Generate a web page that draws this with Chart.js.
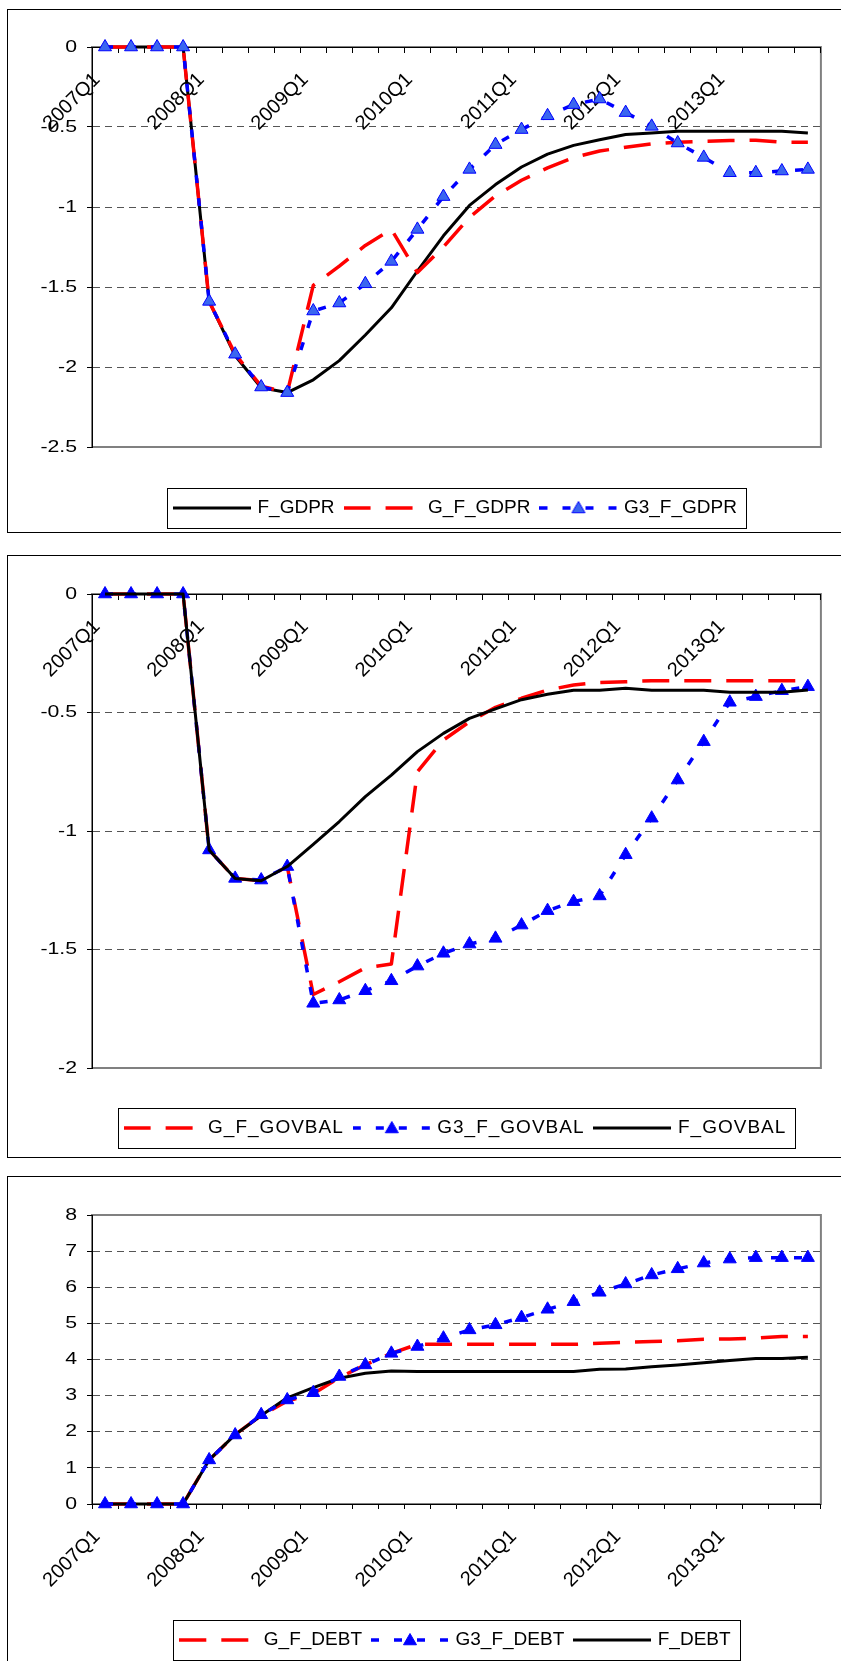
<!DOCTYPE html>
<html>
<head>
<meta charset="utf-8">
<title>F_GDPR / F_GOVBAL / F_DEBT</title>
<script src="https://cdn.jsdelivr.net/npm/chart.js@4.4.1/dist/chart.umd.min.js"></script>
<style>
  html, body { margin:0; padding:0; background:#fff; }
  body { width:841px; height:1661px; position:relative; overflow:hidden; }
  .frame { position:absolute; left:7px; width:860px; border:1px solid #000; box-sizing:border-box; }
  canvas { position:absolute; left:0; }
</style>
</head>
<body>
<div class="frame" style="top:9px;height:524px"></div>
<div class="frame" style="top:555px;height:603px"></div>
<div class="frame" style="top:1176px;height:520px"></div>
<canvas id="gdpr" width="841" height="524" style="top:9px"></canvas>
<canvas id="govbal" width="841" height="602" style="top:555px"></canvas>
<canvas id="debt" width="841" height="485" style="top:1176px"></canvas>
<script>
Chart.defaults.font.family = "'Liberation Sans', Arial, Helvetica, sans-serif";
Chart.defaults.color = '#000';

// ---------- data ----------
const categories = [
  '2007Q1','2007Q2','2007Q3','2007Q4','2008Q1','2008Q2','2008Q3','2008Q4',
  '2009Q1','2009Q2','2009Q3','2009Q4','2010Q1','2010Q2','2010Q3','2010Q4',
  '2011Q1','2011Q2','2011Q3','2011Q4','2012Q1','2012Q2','2012Q3','2012Q4',
  '2013Q1','2013Q2','2013Q3','2013Q4'
];
const xTickLabels = ['2007Q1','2008Q1','2009Q1','2010Q1','2011Q1','2012Q1','2013Q1'];

const gdprTicks = [-2.5, -2, -1.5, -1, -0.5, 0];
const F_GDPR    = [0,0,0,0,-1.59,-1.93,-2.13,-2.16,-2.08,-1.96,-1.80,-1.63,-1.40,-1.18,-0.99,-0.86,-0.75,-0.67,-0.615,-0.58,-0.547,-0.537,-0.527,-0.527,-0.527,-0.527,-0.527,-0.537];
const G_F_GDPR  = [0,0,0,0,-1.59,-1.92,-2.12,-2.16,-1.49,-1.37,-1.24,-1.14,-1.41,-1.25,-1.065,-0.93,-0.833,-0.755,-0.69,-0.65,-0.626,-0.605,-0.595,-0.589,-0.585,-0.583,-0.595,-0.595];
const G3_F_GDPR = [0,0,0,0,-1.59,-1.92,-2.125,-2.16,-1.65,-1.60,-1.48,-1.34,-1.14,-0.935,-0.765,-0.61,-0.516,-0.43,-0.36,-0.325,-0.41,-0.496,-0.60,-0.69,-0.786,-0.786,-0.775,-0.765];

const govbalTicks = [-2, -1.5, -1, -0.5, 0];
const G_F_GOVBAL  = [0,0,0,0,-1.08,-1.20,-1.21,-1.15,-1.69,-1.636,-1.577,-1.561,-0.75,-0.616,-0.539,-0.478,-0.44,-0.405,-0.384,-0.373,-0.37,-0.366,-0.366,-0.366,-0.366,-0.366,-0.366,-0.366];
const G3_F_GOVBAL = [0,0,0,0,-1.08,-1.20,-1.207,-1.15,-1.727,-1.713,-1.674,-1.632,-1.57,-1.516,-1.477,-1.453,-1.397,-1.336,-1.298,-1.274,-1.10,-0.946,-0.785,-0.623,-0.457,-0.433,-0.408,-0.391];
const F_GOVBAL    = [0,0,0,0,-1.08,-1.20,-1.21,-1.15,-1.056,-0.96,-0.855,-0.764,-0.665,-0.588,-0.525,-0.485,-0.446,-0.423,-0.406,-0.406,-0.398,-0.406,-0.406,-0.406,-0.415,-0.415,-0.415,-0.405];

const debtTicks = [0, 1, 2, 3, 4, 5, 6, 7, 8];
const G_F_DEBT  = [0,0,0,0,1.22,1.92,2.45,2.85,3.05,3.5,3.85,4.17,4.42,4.42,4.42,4.42,4.42,4.42,4.42,4.45,4.48,4.5,4.52,4.56,4.57,4.59,4.64,4.64];
const G3_F_DEBT = [0,0,0,0,1.22,1.91,2.47,2.88,3.08,3.53,3.85,4.17,4.36,4.59,4.82,4.96,5.16,5.39,5.60,5.86,6.09,6.34,6.51,6.67,6.78,6.82,6.82,6.82];
const F_DEBT    = [0,0,0,0,1.22,1.92,2.45,2.94,3.22,3.48,3.62,3.68,3.67,3.67,3.67,3.67,3.67,3.67,3.67,3.73,3.74,3.80,3.85,3.91,3.97,4.03,4.03,4.06];

// ---------- styles ----------
const SERIES_STYLE = {
  F:  { color: '#000000', width: 3,   dash: [] },
  G:  { color: '#ff0000', width: 3.5, dash: [27, 15] },
  G3: { color: '#0000ff', width: 3.5, dash: [8, 15] }
};
const TRI_R = 7.5;
const TICK_FONT_Y = 17, Y_LABEL_STRETCH = 1.25, TICK_FONT_X = 20, LEGEND_FONT = 19;
const SAMPLE_BOX = 72, SAMPLE_W = 78;
const Y_TICK_LEN = 5, Y_TICK_PAD = 10;

function triPath(g, x, y, r) {
  g.beginPath();
  for (let k = 0; k < 3; k++) {
    const a = k * 2 * Math.PI / 3;
    const px = x + Math.sin(a) * r, py = y - Math.cos(a) * r;
    if (k === 0) g.moveTo(px, py); else g.lineTo(px, py);
  }
  g.closePath();
}

function makeSample(kind, triFill) {
  const c = document.createElement('canvas');
  c.width = SAMPLE_W; c.height = 20;
  const g = c.getContext('2d');
  const s = SERIES_STYLE[kind];
  g.strokeStyle = s.color; g.lineWidth = s.width; g.lineCap = 'butt';
  g.setLineDash(s.dash);
  g.beginPath(); g.moveTo(0, 10); g.lineTo(SAMPLE_W, 10); g.stroke();
  if (kind === 'G3') {
    g.setLineDash([]);
    triPath(g, SAMPLE_W / 2, 11, TRI_R);
    g.fillStyle = triFill; g.fill();
    g.lineWidth = 1; g.strokeStyle = '#0000ff'; g.stroke();
  }
  return c;
}

function makeDataset(s, triFill) {
  const st = SERIES_STYLE[s.kind];
  const d = {
    label: s.label, data: s.data, order: s.order, clip: 12,
    borderColor: st.color, backgroundColor: st.color, borderWidth: st.width,
    borderDash: st.dash, borderCapStyle: 'butt', borderJoinStyle: 'round',
    fill: false, tension: 0, pointRadius: 0, pointHoverRadius: 0, pointHitRadius: 0
  };
  if (s.kind === 'G3') {
    Object.assign(d, {
      pointStyle: 'triangle', pointRadius: TRI_R, pointHoverRadius: TRI_R,
      pointBackgroundColor: triFill, pointBorderColor: '#0000ff', pointBorderWidth: 1
    });
  }
  return d;
}

function buildChart(id, spec) {
  const canvas = document.getElementById(id);
  const W = canvas.width, H = canvas.height;
  const { series, ticks, xAtZero, area, legendCenter, triFill, legendPad, legendSpacing } = spec;
  const yMin = Math.min(...ticks), yMax = Math.max(...ticks);
  const legendH = xAtZero ? H - area.bottom : 40;
  const xAxisH = xAtZero ? null : H - legendH - area.bottom;
  const samples = series.map(s => makeSample(s.kind, triFill));

  const withSpacing = (ctx, sp, fn) => {
    const prev = ctx.letterSpacing;
    if (sp && 'letterSpacing' in ctx) ctx.letterSpacing = sp;
    try { fn(); } finally { if ('letterSpacing' in ctx) ctx.letterSpacing = prev; }
  };

  const plugin = {
    id: 'excelLook',
    beforeUpdate(chart) {
      const lg = chart.legend;
      if (lg && !lg.$patched) {
        const fit = lg.fit, draw = lg.draw;
        lg.fit = function () {
          withSpacing(this.ctx, legendSpacing, () => fit.call(this));
          this.height = legendH;
        };
        lg.draw = function () {
          withSpacing(this.ctx, legendSpacing, () => draw.call(this));
        };
        lg.$patched = true;
      }
    },
    afterLayout(chart) {
      const lg = chart.legend, ca = chart.chartArea;
      const cx = (ca.left + ca.right) / 2;
      lg.left = cx - 400; lg.right = cx + 400; lg.width = 800;
      lg.top = legendCenter - legendPad - LEGEND_FONT / 2;
      lg.bottom = lg.top + lg.height;
      const ys = chart.scales.y;
      if (ys && !ys.$stretched) {
        const base = Object.getPrototypeOf(ys).drawLabels;
        ys.drawLabels = function (ca2) {
          const c = this.ctx;
          const ax = this.right - Y_TICK_LEN - Y_TICK_PAD;
          c.save();
          c.translate(ax, 0); c.scale(Y_LABEL_STRETCH, 1); c.translate(-ax, 0);
          base.call(this, ca2);
          c.restore();
        };
        ys.$stretched = true;
      }
    },
    beforeDraw(chart) {
      const ca = chart.chartArea, g = chart.ctx;
      g.save();
      g.strokeStyle = '#808080'; g.lineWidth = 2;
      g.strokeRect(ca.left, ca.top, ca.right - ca.left, ca.bottom - ca.top);
      g.restore();
    },
    afterDraw(chart) {
      const hb = chart.legend.legendHitBoxes;
      if (!hb || !hb.length) return;
      const first = hb[0], last = hb[hb.length - 1];
      const x1 = Math.round(first.left - 9) + 0.5;
      const x2 = Math.round(last.left + last.width + 9) + 0.5;
      const cy = first.top + first.height / 2;
      const y1 = Math.round(cy - 20) + 0.5;
      const g = chart.ctx;
      g.save();
      g.strokeStyle = '#000'; g.lineWidth = 1;
      g.strokeRect(x1, y1, x2 - x1, 40);
      g.restore();
    }
  };

  const edge = c => c.tick && (c.tick.value === yMin || c.tick.value === yMax);

  return new Chart(canvas, {
    type: 'line',
    data: { labels: categories, datasets: series.map(s => makeDataset(s, triFill)) },
    options: {
      responsive: false, animation: false, devicePixelRatio: 1, events: [],
      layout: { padding: { top: area.top, right: W - area.right, bottom: 0, left: 0 } },
      plugins: {
        tooltip: { enabled: false },
        legend: {
          display: true, position: 'bottom', align: 'center',
          labels: {
            usePointStyle: true, pointStyleWidth: SAMPLE_BOX, padding: legendPad,
            color: '#000', font: { size: LEGEND_FONT },
            generateLabels(chart) {
              const items = Chart.defaults.plugins.legend.labels.generateLabels(chart);
              items.forEach(it => { it.pointStyle = samples[it.datasetIndex]; it.rotation = 0; });
              items.sort((a, b) => a.datasetIndex - b.datasetIndex);
              return items;
            }
          }
        }
      },
      scales: {
        x: {
          type: 'category', offset: true,
          position: xAtZero ? { y: 0 } : 'bottom',
          grid: { offset: true, drawOnChartArea: false, drawTicks: true, tickLength: 5, color: '#000', tickColor: '#000', lineWidth: 1 },
          border: { display: true, color: '#000', width: 1 },
          ticks: {
            autoSkip: false, minRotation: 45, maxRotation: 45, padding: 16, labelOffset: -8,
            color: '#000', font: { size: TICK_FONT_X },
            callback: (v, i) => xTickLabels.includes(categories[i]) ? categories[i] : ''
          },
          afterFit: s => { if (xAxisH !== null) s.height = xAxisH; }
        },
        y: {
          type: 'linear', min: yMin, max: yMax,
          grid: {
            color: c => edge(c) ? 'rgba(0,0,0,0)' : '#555',
            tickColor: '#000', tickLength: Y_TICK_LEN, drawTicks: true, lineWidth: 1
          },
          border: { display: true, color: '#000', width: 1, dash: [7, 5] },
          ticks: { padding: Y_TICK_PAD, color: '#000', font: { size: TICK_FONT_Y }, callback: v => String(v) },
          afterBuildTicks: s => { s.ticks = ticks.slice().sort((a, b) => a - b).map(v => ({ value: v })); },
          afterFit: s => { s.width = area.left; }
        }
      }
    },
    plugins: [plugin]
  });
}

buildChart('gdpr', {
  ticks: gdprTicks, xAtZero: true, triFill: '#3a66f0', legendPad: 12, legendSpacing: '0px',
  area: { left: 92, right: 833, top: 38, bottom: 438 }, legendCenter: 499,
  series: [
    { label: 'F_GDPR',    data: F_GDPR,    kind: 'F',  order: 3 },
    { label: 'G_F_GDPR',  data: G_F_GDPR,  kind: 'G',  order: 2 },
    { label: 'G3_F_GDPR', data: G3_F_GDPR, kind: 'G3', order: 1 }
  ]
});

buildChart('govbal', {
  ticks: govbalTicks, xAtZero: true, triFill: '#0000ff', legendPad: 12, legendSpacing: '1px',
  area: { left: 92, right: 834, top: 39, bottom: 513 }, legendCenter: 573,
  series: [
    { label: 'G_F_GOVBAL',  data: G_F_GOVBAL,  kind: 'G',  order: 3 },
    { label: 'G3_F_GOVBAL', data: G3_F_GOVBAL, kind: 'G3', order: 2 },
    { label: 'F_GOVBAL',    data: F_GOVBAL,    kind: 'F',  order: 1 }
  ]
});

buildChart('debt', {
  ticks: debtTicks, xAtZero: false, triFill: '#0000ff', legendPad: 12, legendSpacing: '0px',
  area: { left: 92, right: 833, top: 39, bottom: 328 }, legendCenter: 464,
  series: [
    { label: 'G_F_DEBT',  data: G_F_DEBT,  kind: 'G',  order: 3 },
    { label: 'G3_F_DEBT', data: G3_F_DEBT, kind: 'G3', order: 1 },
    { label: 'F_DEBT',    data: F_DEBT,    kind: 'F',  order: 2 }
  ]
});
</script>
</body>
</html>
